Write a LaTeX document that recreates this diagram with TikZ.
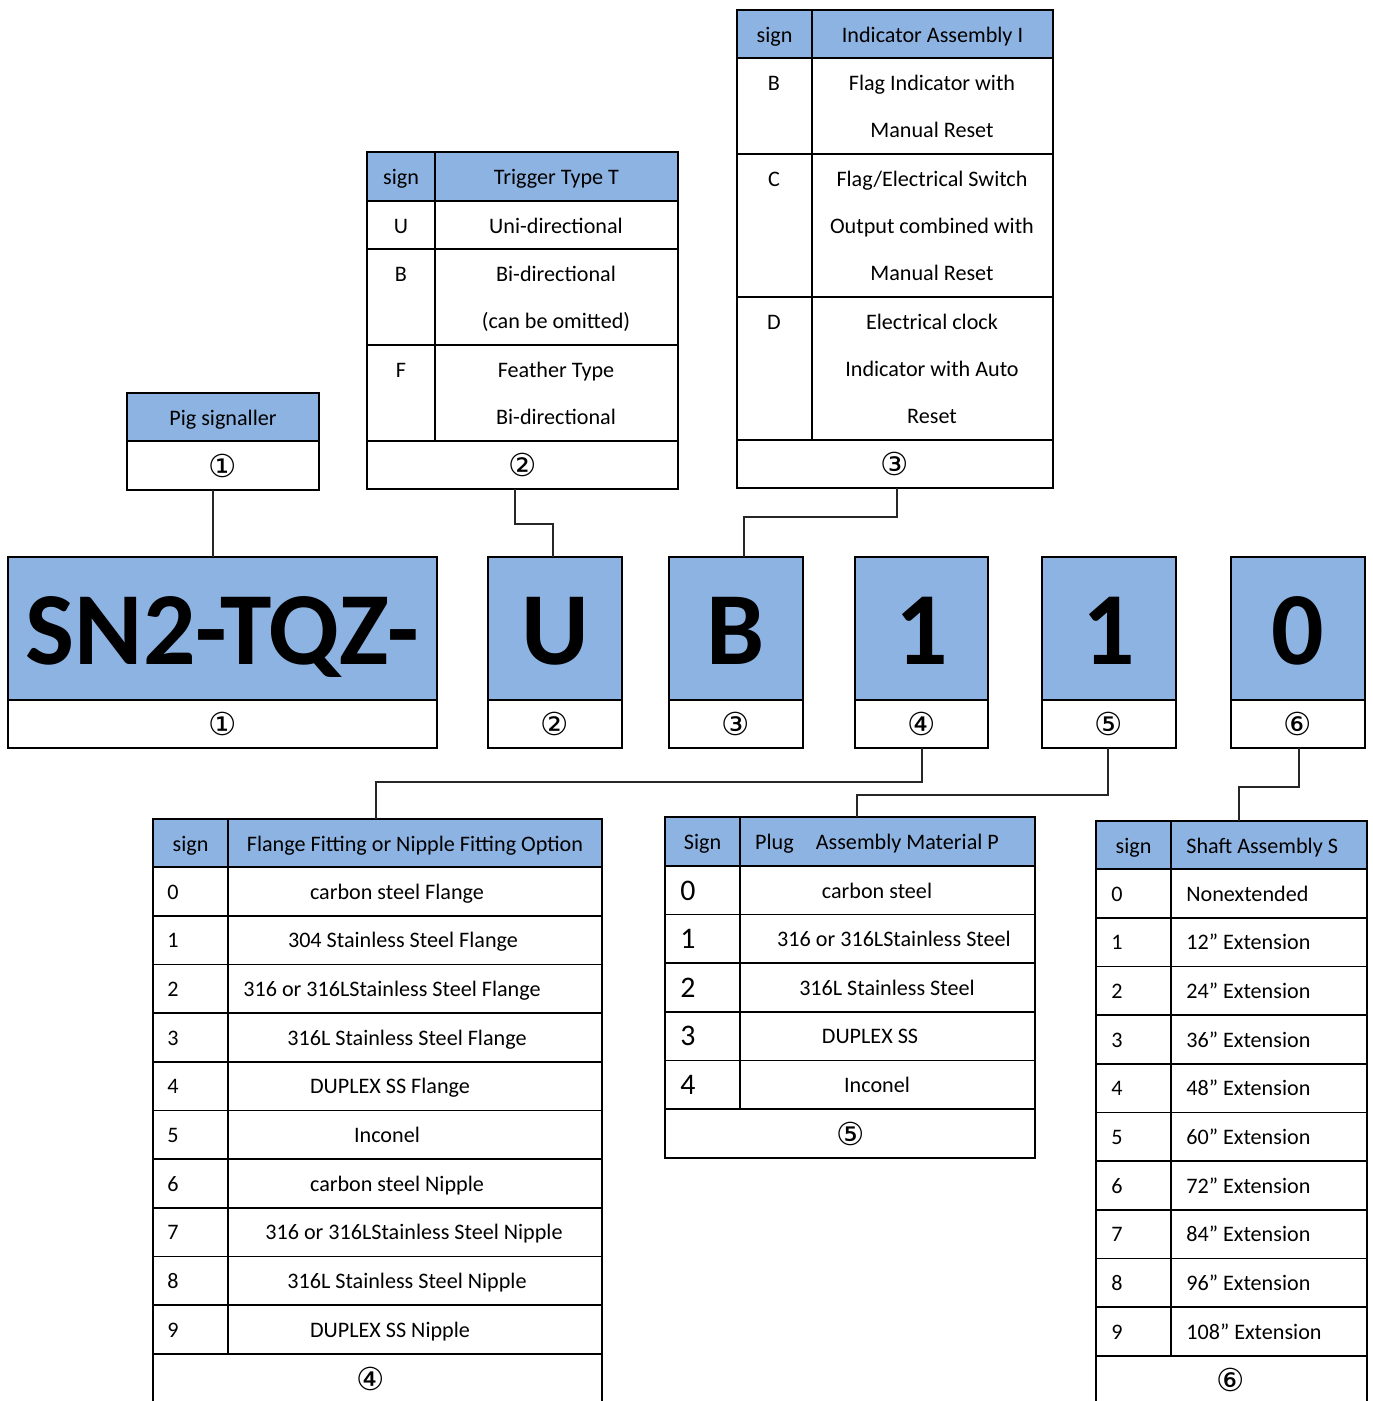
\documentclass[tikz,border=0pt]{standalone}
\usepackage{fontspec}
\setmainfont{Carlito}
\newfontfamily\circfont{DejaVu Sans}
\usetikzlibrary{positioning,fit,calc}

\definecolor{HeadBlue}{RGB}{141,179,226}

\tikzset{
    cellbox/.style={draw, line width=1pt, inner sep=0pt, outer sep=0pt},
    headbox/.style={cellbox, fill=HeadBlue},
    txt/.style={inner sep=0pt},
    ctext/.style={inner sep=0pt, anchor=base, yshift=-0.16cm},
    twoline/.style={inner sep=0pt, anchor=base, align=center, font=\fontsize{12.6}{26.7}\selectfont},
    bigchar/.style={inner sep=0pt, anchor=base, yshift=-0.72cm, font=\fontsize{59}{60}\selectfont\bfseries},
    circnum/.style={inner sep=0pt, font=\circfont\fontsize{18}{20}\selectfont},
    bignum/.style={font=\fontsize{17}{20}\selectfont},
    wire/.style={line width=1pt, black!85},
}

\begin{document}
\begin{tikzpicture}[
            x=0.02cm,
            y=-0.02cm,
            font=\fontsize{12.6}{15}\selectfont,
        ]
        \clip (0,0) rectangle (1373,1401);

        % Row height of the long tables
        \def\rowH{48.7}

        % Pig signaller
        \node[headbox, fit={(127,393) (319,441)}] (pighead) {};
        \node[ctext] (pigtitle) at (pighead.center) {Pig signaller};
        \node[cellbox, fit={(127,441) (319,490)}] (pigfoot) {};
        \node[circnum] (pigcirc) at (pigfoot.center) {①};

        % Trigger type table (last line of a cell sits \m lines down)
        \node[headbox, fit={(367,152) (435,201)}] (trsignhd) {};
        \node[ctext] (trsigntx) at (trsignhd.center) {sign};
        \node[headbox, fit={(435,152) (678,201)}] (trhead) {};
        \node[ctext] (trtitle) at (trhead.center) {Trigger Type T};
        \foreach \s/\a/\b/\m/\t in {U/201/249/0/{Uni-directional}, B/249/345/1/{Bi-directional\\(can be omitted)}, F/345/441/1/{Feather Type\\Bi-directional}} {
            \node[cellbox, fit={(367,\a) (435,\b)}] (trsg\s) {};
            \node[cellbox, fit={(435,\a) (678,\b)}] (trcell\s) {};
            \node[txt, anchor=base] (trlt\s) at (401,\a+32) {\s};
            \node[twoline] (trtx\s) at (556,\a+32+47*\m) {\t};
        }
        \node[cellbox, fit={(367,441) (678,489)}] (trfoot) {};
        \node[circnum] (trcirc) at (trfoot.center) {②};

        % Indicator assembly table
        \node[headbox, fit={(737,10) (812,58)}] (insignhd) {};
        \node[ctext] (insigntx) at (insignhd.center) {sign};
        \node[headbox, fit={(812,10) (1053,58)}] (inhead) {};
        \node[ctext] (intitle) at (inhead.center) {Indicator Assembly I};
        \foreach \s/\a/\b/\m/\t in {B/58/154/1/{Flag Indicator with\\Manual Reset}, C/154/297/2/{Flag/Electrical Switch\\Output combined with\\Manual Reset}, D/297/440/2/{Electrical clock\\Indicator with Auto\\Reset}} {
            \node[cellbox, fit={(737,\a) (812,\b)}] (insg\s) {};
            \node[cellbox, fit={(812,\a) (1053,\b)}] (incell\s) {};
            \node[txt, anchor=base] (inlt\s) at (774,\a+32) {\s};
            \node[twoline] (intx\s) at (932,\a+32+47*\m) {\t};
        }
        \node[cellbox, fit={(737,440) (1053,488)}] (infoot) {};
        \node[circnum] (incirc) at (infoot.center) {③};

        % Code boxes
        \foreach \n/\a/\b/\t/\k in {A/8/437/SN2-TQZ-/①, U/488/622/U/②, B/669/803/B/③, P/855/988/1/④, M/1042/1176/1/⑤, S/1231/1365/0/⑥} {
            \node[headbox, fit={(\a,557) (\b,700)}] (code\n) {};
            \node[bigchar] (char\n) at (code\n.center) {\t};
            \node[cellbox, fit={(\a,700) (\b,748)}] (num\n) {};
            \node[circnum] (circ\n) at (num\n.center) {\k};
        }

        % Flange / nipple fitting table
        \node[headbox, fit={(153,819) (228,867)}] (flsignhd) {};
        \node[ctext] (flsigntx) at (flsignhd.center) {sign};
        \node[headbox, fit={(228,819) (602,867)}] (flhead) {};
        \node[ctext] (fltitle) at (flhead.center) {Flange Fitting or Nipple Fitting Option};
        \foreach \s/\t/\c in {0/carbon steel Flange/397, 1/304 Stainless Steel Flange/403, 2/316 or 316LStainless Steel Flange/392, 3/316L Stainless Steel Flange/407, 4/DUPLEX SS Flange/390, 5/Inconel/387, 6/carbon steel Nipple/397, 7/316 or 316LStainless Steel Nipple/414, 8/316L Stainless Steel Nipple/407, 9/DUPLEX SS Nipple/390} {
            \node[cellbox, fit={(153,867+\rowH*\s) (228,867+\rowH+\rowH*\s)}] (flsg\s) {};
            \node[cellbox, fit={(228,867+\rowH*\s) (602,867+\rowH+\rowH*\s)}] (flrow\s) {};
            \node[txt, anchor=base west] (flnum\s) at (167,899+\rowH*\s) {\s};
            \node[txt, anchor=base] (fltx\s) at (\c,899+\rowH*\s) {\t};
        }
        \node[cellbox, fit={(153,1354) (602,1420)}] (flfoot) {};
        \node[circnum] (flcirc) at (371,1379) {④};

        % Plug material table
        \node[headbox, fit={(665,817) (740,866)}] (plsignhd) {};
        \node[ctext] (plsigntx) at (plsignhd.center) {Sign};
        \node[headbox, fit={(740,817) (1035,866)}] (plhead) {};
        \node[txt, anchor=base] (pltitle) at (877,849) {Plug\quad Assembly Material P};
        \foreach \s/\t/\c in {0/carbon steel/877, 1/316 or 316LStainless Steel/894, 2/316L Stainless Steel/887, 3/DUPLEX SS/870, 4/Inconel/877} {
            \node[cellbox, fit={(665,866+48.6*\s) (740,914.6+48.6*\s)}] (plsg\s) {};
            \node[cellbox, fit={(740,866+48.6*\s) (1035,914.6+48.6*\s)}] (plrow\s) {};
            \node[txt, anchor=base west, bignum] (plnum\s) at (680,900+48.6*\s) {\s};
            \node[txt, anchor=base] (pltx\s) at (\c,898+48.6*\s) {\t};
        }
        \node[cellbox, fit={(665,1109) (1035,1158)}] (plfoot) {};
        \node[circnum] (plcirc) at (851,1134) {⑤};

        % Shaft assembly table
        \node[headbox, fit={(1096,821) (1171,869)}] (shsignhd) {};
        \node[ctext] (shsigntx) at (shsignhd.center) {sign};
        \node[headbox, fit={(1171,821) (1367,869)}] (shhead) {};
        \node[txt, anchor=base west] (shtitle) at (1186,853) {Shaft Assembly S};
        \foreach \s/\t in {0/Nonextended, 1/12” Extension, 2/24” Extension, 3/36” Extension, 4/48” Extension, 5/60” Extension, 6/72” Extension, 7/84” Extension, 8/96” Extension, 9/108” Extension} {
            \node[cellbox, fit={(1096,869+\rowH*\s) (1171,869+\rowH+\rowH*\s)}] (shsg\s) {};
            \node[cellbox, fit={(1171,869+\rowH*\s) (1367,869+\rowH+\rowH*\s)}] (shrow\s) {};
            \node[txt, anchor=base west] (shnum\s) at (1111,901+\rowH*\s) {\s};
            \node[txt, anchor=base west] (shtx\s) at (1186,901+\rowH*\s) {\t};
        }
        \node[cellbox, fit={(1096,1356) (1367,1420)}] (shfoot) {};
        \node[circnum] (shcirc) at (1231,1380) {⑥};

        % Connectors
        \coordinate (b1) at (213,520);
        \draw[wire] (pigfoot.south -| b1) -- (codeA.north -| b1);
        \coordinate (b2a) at (515,524);
        \coordinate (b2b) at (553,524);
        \draw[wire] (trfoot.south -| b2a) -- (b2a) -- (b2b) -- (codeU.north -| b2b);
        \coordinate (b3a) at (897,517);
        \coordinate (b3b) at (744,517);
        \draw[wire] (infoot.south -| b3a) -- (b3a) -- (b3b) -- (codeB.north -| b3b);
        \coordinate (b4a) at (922,782);
        \coordinate (b4b) at (376,782);
        \draw[wire] (numP.south -| b4a) -- (b4a) -- (b4b) -- (flhead.north -| b4b);
        \coordinate (b5a) at (1108,795);
        \coordinate (b5b) at (857,795);
        \draw[wire] (numM.south -| b5a) -- (b5a) -- (b5b) -- (plhead.north -| b5b);
        \coordinate (b6a) at (1299,787);
        \coordinate (b6b) at (1239,787);
        \draw[wire] (numS.south -| b6a) -- (b6a) -- (b6b) -- (shhead.north -| b6b);
        \end{tikzpicture}
\end{document}
